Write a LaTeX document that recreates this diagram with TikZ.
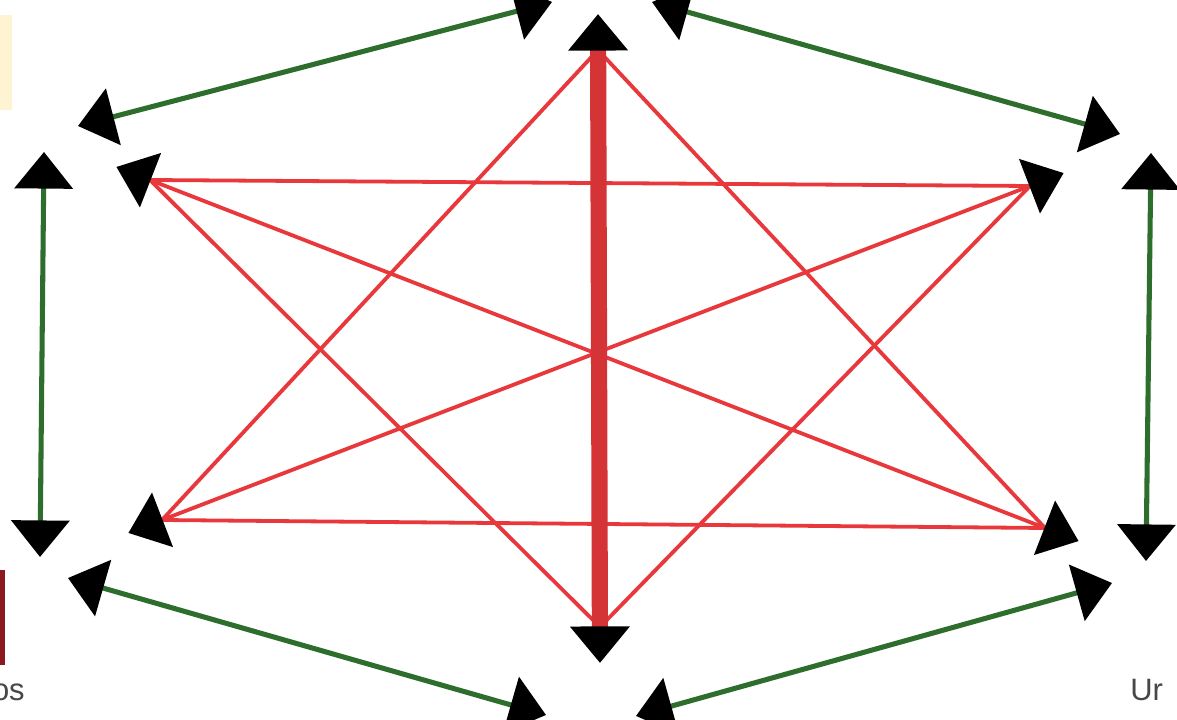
\documentclass[tikz,border=0pt]{standalone}
\usepackage{fontspec}
\setsansfont{Liberation Sans}
\usetikzlibrary{arrows.meta,positioning,calc}
\definecolor{linkgreen}{RGB}{45,110,45}
\definecolor{linkred}{RGB}{232,56,60}
\definecolor{tagred}{RGB}{140,25,30}
\definecolor{tagyellow}{RGB}{255,244,210}

\begin{document}
\begin{tikzpicture}[x=0.025cm, y=-0.025cm,
  >={Triangle[length=26pt, width=41pt, color=black]},
  outer/.style={<->, linkgreen, line width=3.6pt},
  inner/.style={linkred, line width=2.7pt},
  spine/.style={<->, linkred!92!black, line width=11.5pt},
  cut/.style={font=\sffamily\fontsize{22}{26}\selectfont, text=black!72, inner sep=0pt}]
  \clip (0,0) rectangle (1177,720);
  \fill[white] (0,0) rectangle (1177,720);
  % cropped labels at the edges
  \fill[tagyellow] (0,15) rectangle (12,110);
  \fill[tagred] (0,570) rectangle (5,665);
  \node[cut, anchor=base east] (osLabel) at (25,700) {os};
  \node[cut, anchor=base west] (urLabel) at (1130,700) {Ur};
  % corners of the star
  \coordinate (top) at (598,50);
  \coordinate (bot) at (600,627);
  \coordinate (ul) at (150,180);
  \coordinate (ur) at (1030,186);
  \coordinate (ll) at (162,520);
  \coordinate (lr) at (1045,528);
  \coordinate (topTip) at (598,14);
  \coordinate (botTip) at (600,663);
  \coordinate (ulTip) at ($(ul)!-0.9cm!(lr)$);
  \coordinate (lrTip) at ($(lr)!-0.9cm!(ul)$);
  \coordinate (llTip) at ($(ll)!-0.9cm!(ur)$);
  \coordinate (urTip) at ($(ur)!-0.9cm!(ll)$);
  % red links
  \draw[inner] (ul) -- (ur);
  \draw[inner] (ll) -- (lr);
  \draw[inner] (top) -- (ll);
  \draw[inner] (top) -- (lr);
  \draw[inner] (bot) -- (ul);
  \draw[inner] (bot) -- (ur);
  \draw[inner, <->] (ulTip) -- (lrTip);
  \draw[inner, <->] (llTip) -- (urTip);
  \draw[spine] (botTip) -- (topTip);
  % green ring
  \coordinate (gA1) at (78,126);
  \coordinate (gA2) at (552,2);
  \coordinate (gB1) at (652,2);
  \coordinate (gB2) at (1120,134);
  \coordinate (gL1) at (44,152);
  \coordinate (gL2) at (40,557);
  \coordinate (gR1) at (1151,153);
  \coordinate (gR2) at (1146,561);
  \coordinate (gC1) at (68,578);
  \coordinate (gC2) at (546,715);
  \coordinate (gD1) at (636,716);
  \coordinate (gD2) at (1112,583);
  \draw[outer] (gA1) -- (gA2);
  \draw[outer] (gB1) -- (gB2);
  \draw[outer] (gL1) -- (gL2);
  \draw[outer] (gR1) -- (gR2);
  \draw[outer] (gC1) -- (gC2);
  \draw[outer] (gD1) -- (gD2);
\end{tikzpicture}
\end{document}
